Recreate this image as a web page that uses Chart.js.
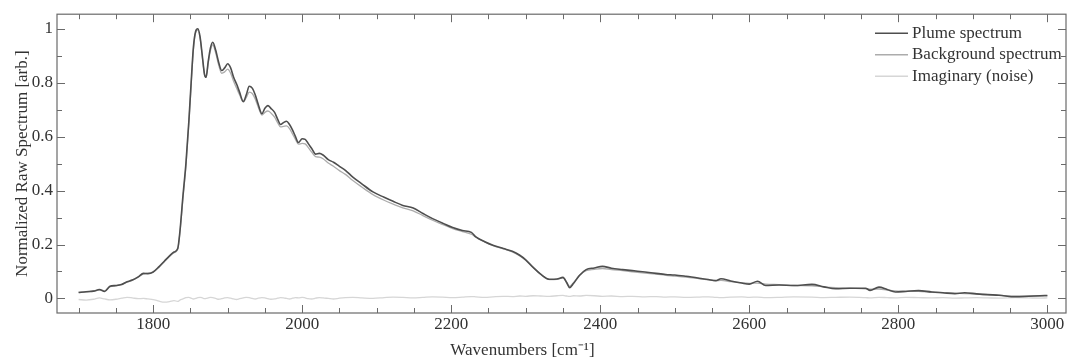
<!DOCTYPE html>
<html>
<head>
<meta charset="utf-8">
<script src="https://cdn.jsdelivr.net/npm/chart.js@4/dist/chart.umd.min.js"></script>
<style>
  body { margin: 0; background: #fff; }
  #wrap { width: 1070px; height: 364px; position: relative; }
</style>
</head>
<body>
<div id="wrap"><canvas id="canvas"></canvas></div>
<script>
// wavenumbers [cm-1]
var wavenumbers = [
  1700,1710,1720,1728,1735,1742,1750,1758,1765,1772,
  1780,1787,1793,1800,1808,1815,1822,1828,1833,1836,
  1840,1844,1848,1851,1854,1857,1860,1863,1866,1869,
  1871,1874,1877,1880,1884,1888,1892,1896,1900,1904,
  1908,1912,1916,1921,1925,1929,1933,1937,1941,1946,
  1950,1954,1958,1963,1967,1971,1975,1979,1983,1987,
  1991,1995,2000,2004,2008,2013,2018,2023,2028,2035,
  2042,2050,2058,2068,2080,2095,2110,2122,2135,2149,
  2162,2175,2188,2202,2215,2227,2233,2245,2256,2270,
  2282,2292,2300,2310,2320,2332,2342,2350,2355,2359,
  2364,2372,2381,2392,2403,2415,2430,2443,2460,2475,
  2488,2500,2515,2533,2545,2555,2562,2575,2590,2600,
  2611,2622,2640,2660,2684,2700,2716,2735,2756,2762,
  2774,2785,2796,2810,2827,2845,2860,2876,2889,2905,
  2920,2935,2957,2975,2990,3000
];
var plume = [
  0.022,0.025,0.027,0.033,0.026,0.045,0.048,0.052,0.062,0.068,
  0.080,0.093,0.092,0.098,0.118,0.138,0.158,0.172,0.185,0.25,
  0.38,0.50,0.66,0.80,0.93,0.99,1.0,0.97,0.90,0.83,
  0.82,0.88,0.93,0.95,0.92,0.875,0.845,0.855,0.87,0.855,
  0.82,0.795,0.765,0.73,0.755,0.787,0.78,0.755,0.72,0.685,
  0.705,0.715,0.705,0.69,0.665,0.645,0.652,0.657,0.645,0.625,
  0.60,0.578,0.592,0.59,0.575,0.555,0.535,0.538,0.532,0.515,
  0.505,0.49,0.475,0.45,0.425,0.395,0.375,0.36,0.345,0.335,
  0.315,0.296,0.28,0.263,0.252,0.245,0.228,0.21,0.197,0.185,
  0.175,0.16,0.143,0.115,0.09,0.071,0.072,0.078,0.058,0.040,
  0.055,0.085,0.107,0.113,0.119,0.112,0.107,0.103,0.098,0.093,
  0.089,0.087,0.082,0.075,0.070,0.066,0.073,0.065,0.057,0.053,
  0.064,0.048,0.050,0.048,0.052,0.043,0.036,0.038,0.038,0.030,
  0.042,0.033,0.024,0.026,0.029,0.024,0.021,0.018,0.021,0.017,
  0.014,0.012,0.006,0.008,0.010,0.011
];
var background = [
  0.023,0.024,0.028,0.031,0.028,0.043,0.047,0.053,0.060,0.067,
  0.079,0.091,0.093,0.097,0.116,0.136,0.156,0.170,0.182,0.245,
  0.37,0.49,0.65,0.79,0.92,0.985,0.995,0.965,0.895,0.83,
  0.82,0.875,0.92,0.94,0.91,0.865,0.835,0.84,0.85,0.835,
  0.805,0.78,0.755,0.728,0.745,0.765,0.76,0.74,0.71,0.68,
  0.69,0.695,0.688,0.672,0.652,0.636,0.638,0.64,0.63,0.61,
  0.59,0.572,0.575,0.573,0.56,0.542,0.526,0.524,0.518,0.502,
  0.49,0.474,0.46,0.437,0.413,0.385,0.364,0.35,0.336,0.325,
  0.307,0.29,0.275,0.259,0.248,0.238,0.228,0.21,0.196,0.184,
  0.173,0.158,0.142,0.115,0.09,0.07,0.071,0.076,0.06,0.045,
  0.058,0.085,0.103,0.108,0.111,0.107,0.103,0.099,0.094,0.09,
  0.086,0.083,0.079,0.073,0.069,0.066,0.067,0.062,0.058,0.056,
  0.057,0.053,0.051,0.048,0.047,0.043,0.04,0.038,0.036,0.034,
  0.035,0.031,0.028,0.027,0.026,0.023,0.021,0.019,0.018,0.016,
  0.014,0.012,0.009,0.009,0.009,0.010
];
var noise = [
  -0.004,-0.006,-0.003,0.002,-0.002,-0.005,-0.003,0.001,0.004,0.002,
  -0.001,0.0,-0.002,-0.004,-0.010,-0.014,-0.012,-0.008,-0.011,-0.006,
  -0.002,0.003,0.004,0.001,-0.002,0.0,0.003,0.004,0.002,-0.001,
  0.0,0.002,0.004,0.003,0.0,-0.003,-0.001,0.002,0.003,0.001,
  -0.002,-0.004,-0.001,0.002,0.004,0.003,0.0,-0.002,0.001,0.003,
  0.002,-0.001,-0.003,-0.002,0.001,0.003,0.002,0.0,-0.002,0.001,
  0.003,0.002,0.004,0.002,-0.001,-0.002,0.001,0.003,0.002,0.0,
  -0.002,0.001,0.003,0.004,0.002,0.0,0.003,0.005,0.004,0.002,
  0.004,0.006,0.005,0.003,0.005,0.007,0.006,0.004,0.006,0.008,
  0.007,0.009,0.008,0.010,0.009,0.008,0.010,0.011,0.009,0.008,
  0.010,0.009,0.011,0.010,0.008,0.009,0.007,0.008,0.006,0.007,
  0.005,0.006,0.004,0.005,0.006,0.004,0.003,0.005,0.006,0.004,
  0.005,0.003,0.004,0.006,0.005,0.003,0.004,0.005,0.003,0.002,
  0.004,0.003,0.002,0.004,0.003,0.002,0.003,0.001,0.002,0.003,
  0.002,0.001,0.003,0.002,0.001,0.002
];
var seriesNames = ['Plume spectrum', 'Background spectrum', 'Imaginary (noise)'];
var xTicks = [1800, 2000, 2200, 2400, 2600, 2800, 3000];
var yTicks = [0, 0.2, 0.4, 0.6, 0.8, 1];
var xTitle = 'Wavenumbers [cm\u207B\u00B9]';

var serif = '"Liberation Serif", "Times New Roman", serif';

function points(vals) {
  return wavenumbers.map(function (w, i) { return { x: w, y: vals[i] }; });
}

// box frame with inward ticks on all four sides, legend inside the plot, x title
var frameTicks = {
  id: 'frameTicks',
  afterDraw: function (chart) {
    var ctx = chart.ctx, a = chart.chartArea;
    var xs = chart.scales.x, ys = chart.scales.y;
    ctx.save();
    ctx.strokeStyle = '#6a6a6a';
    ctx.lineWidth = 1.2;
    ctx.strokeRect(a.left, a.top, a.right - a.left, a.bottom - a.top);
    ctx.lineWidth = 1;
    ctx.beginPath();
    for (var w = 1700; w <= 3000; w += 50) {
      var px = Math.round(xs.getPixelForValue(w)) + 0.5;
      var len = (w % 200 === 0) ? 8 : 5;
      ctx.moveTo(px, a.bottom); ctx.lineTo(px, a.bottom - len);
      ctx.moveTo(px, a.top); ctx.lineTo(px, a.top + len);
    }
    for (var k = 0; k <= 10; k++) {
      var py = Math.round(ys.getPixelForValue(k / 10)) + 0.5;
      var l2 = (k % 2 === 0) ? 8 : 5;
      ctx.moveTo(a.left, py); ctx.lineTo(a.left + l2, py);
      ctx.moveTo(a.right, py); ctx.lineTo(a.right - l2, py);
    }
    ctx.stroke();

    // legend
    ctx.font = '17px ' + serif;
    ctx.textBaseline = 'middle';
    ctx.textAlign = 'left';
    chart.data.datasets.forEach(function (ds, i) {
      var ly = a.top + 19 + i * 21.5;
      ctx.strokeStyle = ds.borderColor;
      ctx.lineWidth = 1.5;
      ctx.beginPath();
      ctx.moveTo(a.right - 191, ly);
      ctx.lineTo(a.right - 158, ly);
      ctx.stroke();
      ctx.fillStyle = '#333';
      ctx.fillText(ds.label, a.right - 154, ly);
    });

    // x axis title (sits a bit left of centre in the original)
    ctx.textAlign = 'center';
    ctx.fillText(xTitle, (a.left + a.right) / 2 - 39, 351);
    ctx.restore();
  }
};

const ctx = document.getElementById('canvas');
new Chart(ctx, {
  type: 'line',
  data: {
    datasets: [{
      label: seriesNames[0],
      data: points(plume),
      borderColor: '#4e4e4e',
      borderWidth: 1.6
    }, {
      label: seriesNames[1],
      data: points(background),
      borderColor: '#acacac',
      borderWidth: 1.3
    }, {
      label: seriesNames[2],
      data: points(noise),
      borderColor: '#d6d6d6',
      borderWidth: 1.3
    }]
  },
  options: {
    responsive: true,
    maintainAspectRatio: false,
    animation: false,
    elements: {
      point: { radius: 0 },
      line: { cubicInterpolationMode: 'monotone' }
    },
    layout: { padding: { top: 5, right: 4, bottom: 0, left: 0 } },
    plugins: {
      legend: { display: false },
      tooltip: { enabled: false }
    },
    scales: {
      x: {
        type: 'linear',
        min: 1671,
        max: 3025,
        afterBuildTicks: function (scale) {
          scale.ticks = xTicks.map(function (v) { return { value: v }; });
        },
        afterFit: function (scale) { scale.height = 51; },
        grid: { display: false, drawTicks: false },
        border: { display: false },
        ticks: {
          padding: 1,
          color: '#333',
          font: { family: serif, size: 17 },
          callback: function (v) { return String(v); }
        }
      },
      y: {
        min: -0.054,
        max: 1.054,
        afterBuildTicks: function (scale) {
          scale.ticks = yTicks.map(function (v) { return { value: v }; });
        },
        afterFit: function (scale) { scale.width = 57; },
        grid: { display: false, drawTicks: false },
        border: { display: false },
        ticks: {
          padding: 4,
          color: '#333',
          font: { family: serif, size: 17 },
          callback: function (v) { return String(Math.round(v * 10) / 10); }
        },
        title: {
          display: true,
          text: 'Normalized Raw Spectrum [arb.]',
          color: '#333',
          font: { family: serif, size: 17 },
          padding: { top: 12, bottom: 0 }
        }
      }
    }
  },
  plugins: [frameTicks]
});
</script>
</body>
</html>
